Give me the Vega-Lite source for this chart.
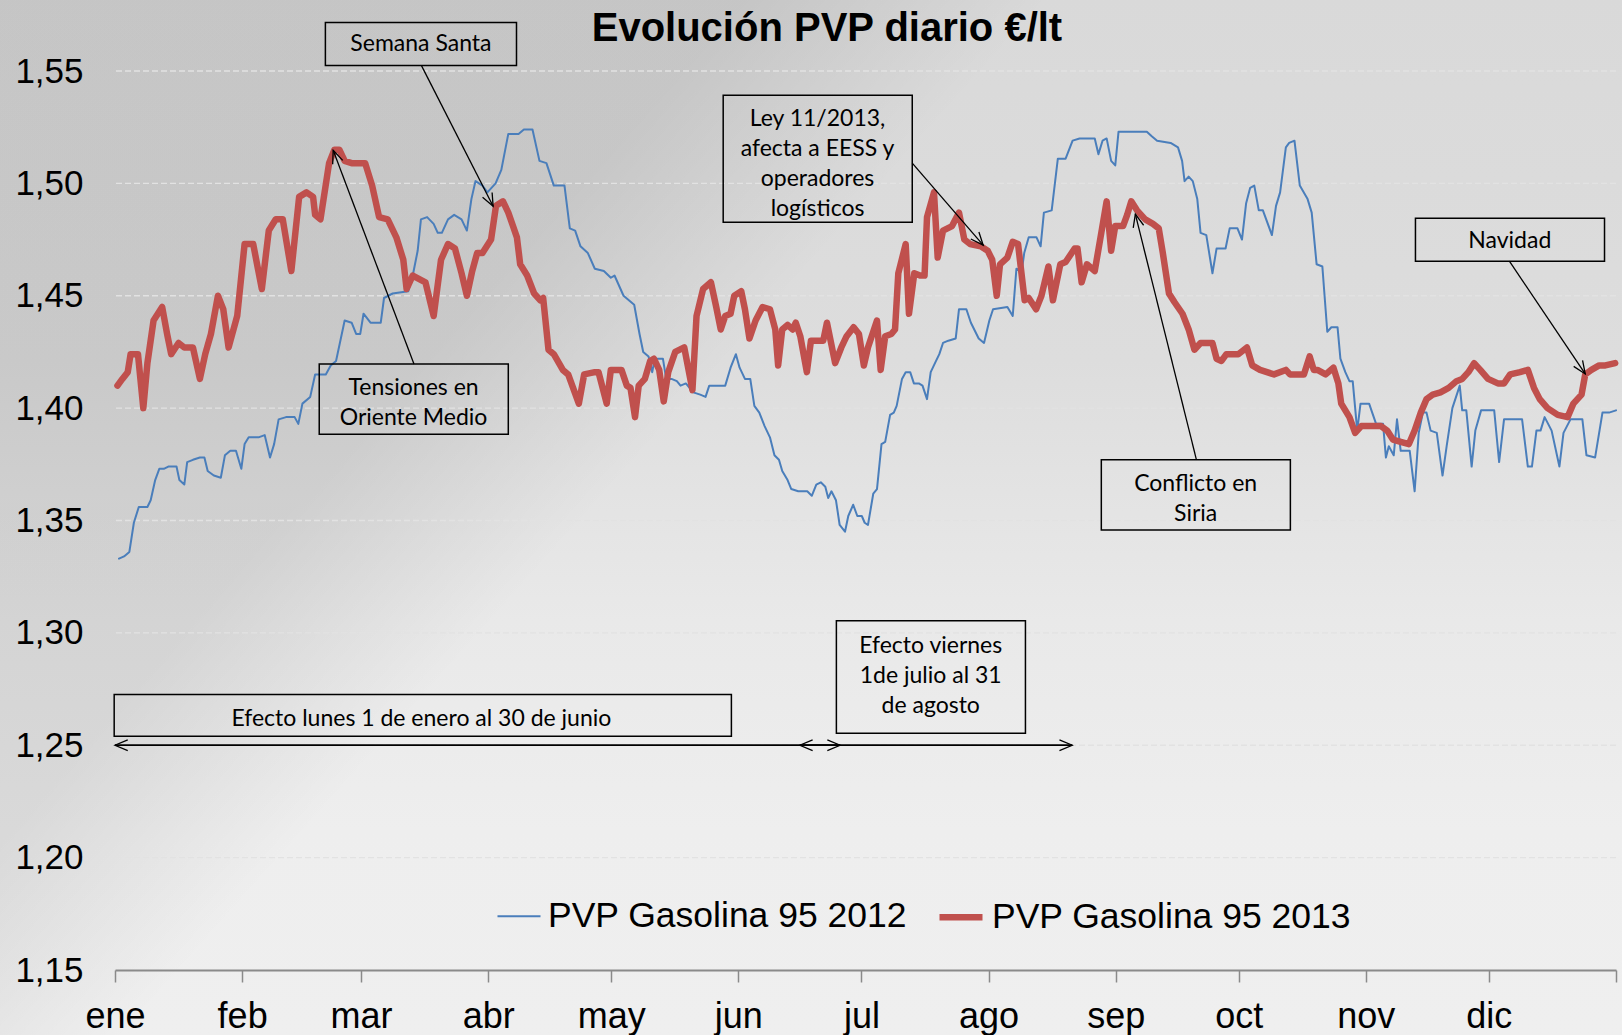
{
"$schema": "https://vega.github.io/schema/vega-lite/v6.json",
"width": 1501, "height": 899,
"autosize": {"type": "none"},
"padding": {"left": 115, "top": 71, "right": 6, "bottom": 65},
"background": "#d8d8d8",
"config": {"view": {"stroke": null}, "font": "Liberation Sans"},
"datasets": {
"heading": [{"t":"Evolución PVP diario €/lt","x":173.6,"y":1.5635}],
"grid": [{"g":1.2},{"g":1.25},{"g":1.3},{"g":1.35},{"g":1.4},{"g":1.45},{"g":1.5},{"g":1.55}],
"boxes": [
{"x1":51.3,"x2":97.9,"y1":1.5525,"y2":1.5716},
{"x1":49.8,"x2":95.9,"y1":1.3884,"y2":1.4196},
{"x1":148.3,"x2":194.4,"y1":1.4827,"y2":1.5392},
{"x1":240.5,"x2":286.6,"y1":1.3458,"y2":1.377},
{"x1":317.1,"x2":363.2,"y1":1.4654,"y2":1.4845},
{"x1":-0.2,"x2":150.3,"y1":1.254,"y2":1.2726},
{"x1":175.9,"x2":222.0,"y1":1.2553,"y2":1.3054}],
"labels": [
{"t":"Semana Santa","x":74.6,"y":1.5621},
{"t":"Tensiones en\nOriente Medio","x":72.8,"y":1.409},
{"t":"Ley 11/2013,\nafecta a EESS y\noperadores\nlogísticos","x":171.3,"y":1.5285},
{"t":"Conflicto en\nSiria","x":263.5,"y":1.3663},
{"t":"Navidad","x":340.1,"y":1.4743},
{"t":"Efecto lunes 1 de enero al 30 de junio","x":74.7,"y":1.2618},
{"t":"Efecto viernes\n1de julio al 31\nde agosto","x":198.9,"y":1.2941}],
"arrows": [
{"x1":74.7,"y1":1.5525,"x2":92.2,"y2":1.4898},
{"x1":72.9,"y1":1.4196,"x2":53.2,"y2":1.5147},
{"x1":194.4,"y1":1.509,"x2":211.7,"y2":1.4725},
{"x1":263.7,"y1":1.377,"x2":248.8,"y2":1.4863},
{"x1":340.0,"y1":1.4654,"x2":358.5,"y2":1.4152},
{"x1":0,"y1":1.25,"x2":176.8,"y2":1.25},
{"x1":176.8,"y1":1.25,"x2":0,"y2":1.25},
{"x1":167,"y1":1.25,"x2":233.4,"y2":1.25},
{"x1":233.4,"y1":1.25,"x2":167,"y2":1.25}],
"series": [
{"s":"2012","d":0.98,"p":1.333},{"s":"2012","d":2.2,"p":1.334},{"s":"2012","d":3.5,"p":1.336},{"s":"2012","d":4.6,"p":1.349},{"s":"2012","d":5.8,"p":1.356},{"s":"2012","d":7.9,"p":1.356},{"s":"2012","d":8.7,"p":1.359},{"s":"2012","d":9.8,"p":1.368},{"s":"2012","d":10.8,"p":1.373},{"s":"2012","d":11.9,"p":1.373},{"s":"2012","d":13.0,"p":1.374},{"s":"2012","d":15.0,"p":1.374},{"s":"2012","d":15.7,"p":1.368},{"s":"2012","d":16.9,"p":1.366},{"s":"2012","d":17.6,"p":1.376},{"s":"2012","d":19.0,"p":1.377},{"s":"2012","d":20.7,"p":1.378},{"s":"2012","d":21.8,"p":1.378},{"s":"2012","d":22.6,"p":1.372},{"s":"2012","d":24.1,"p":1.370},{"s":"2012","d":25.8,"p":1.369},{"s":"2012","d":26.8,"p":1.379},{"s":"2012","d":28.1,"p":1.381},{"s":"2012","d":29.5,"p":1.381},{"s":"2012","d":30.8,"p":1.373},{"s":"2012","d":31.6,"p":1.384},{"s":"2012","d":32.6,"p":1.387},{"s":"2012","d":35.0,"p":1.387},{"s":"2012","d":36.5,"p":1.388},{"s":"2012","d":37.8,"p":1.378},{"s":"2012","d":38.8,"p":1.384},{"s":"2012","d":39.9,"p":1.395},{"s":"2012","d":41.7,"p":1.396},{"s":"2012","d":43.8,"p":1.396},{"s":"2012","d":44.7,"p":1.393},{"s":"2012","d":45.7,"p":1.402},{"s":"2012","d":47.6,"p":1.405},{"s":"2012","d":48.8,"p":1.415},{"s":"2012","d":51.4,"p":1.415},{"s":"2012","d":52.6,"p":1.419},{"s":"2012","d":53.9,"p":1.421},{"s":"2012","d":56.0,"p":1.439},{"s":"2012","d":57.7,"p":1.438},{"s":"2012","d":58.8,"p":1.433},{"s":"2012","d":59.8,"p":1.433},{"s":"2012","d":60.6,"p":1.442},{"s":"2012","d":62.3,"p":1.438},{"s":"2012","d":64.8,"p":1.438},{"s":"2012","d":65.6,"p":1.449},{"s":"2012","d":67.7,"p":1.451},{"s":"2012","d":71.5,"p":1.452},{"s":"2012","d":72.6,"p":1.459},{"s":"2012","d":73.8,"p":1.470},{"s":"2012","d":74.6,"p":1.484},{"s":"2012","d":76.1,"p":1.485},{"s":"2012","d":77.7,"p":1.482},{"s":"2012","d":78.7,"p":1.478},{"s":"2012","d":79.7,"p":1.478},{"s":"2012","d":81.2,"p":1.484},{"s":"2012","d":82.7,"p":1.486},{"s":"2012","d":84.5,"p":1.484},{"s":"2012","d":85.8,"p":1.479},{"s":"2012","d":86.9,"p":1.493},{"s":"2012","d":87.9,"p":1.501},{"s":"2012","d":89.6,"p":1.499},{"s":"2012","d":90.8,"p":1.496},{"s":"2012","d":92.8,"p":1.500},{"s":"2012","d":94.2,"p":1.506},{"s":"2012","d":95.9,"p":1.522},{"s":"2012","d":98.4,"p":1.522},{"s":"2012","d":99.7,"p":1.524},{"s":"2012","d":101.8,"p":1.524},{"s":"2012","d":103.5,"p":1.510},{"s":"2012","d":105.2,"p":1.509},{"s":"2012","d":107.0,"p":1.499},{"s":"2012","d":109.6,"p":1.499},{"s":"2012","d":110.9,"p":1.480},{"s":"2012","d":112.2,"p":1.479},{"s":"2012","d":113.5,"p":1.472},{"s":"2012","d":115.3,"p":1.469},{"s":"2012","d":117.0,"p":1.462},{"s":"2012","d":119.2,"p":1.461},{"s":"2012","d":120.9,"p":1.458},{"s":"2012","d":121.8,"p":1.459},{"s":"2012","d":124.0,"p":1.450},{"s":"2012","d":126.6,"p":1.446},{"s":"2012","d":127.9,"p":1.433},{"s":"2012","d":128.8,"p":1.425},{"s":"2012","d":130.1,"p":1.423},{"s":"2012","d":131.0,"p":1.416},{"s":"2012","d":131.6,"p":1.422},{"s":"2012","d":133.6,"p":1.422},{"s":"2012","d":134.4,"p":1.413},{"s":"2012","d":135.7,"p":1.413},{"s":"2012","d":137.0,"p":1.412},{"s":"2012","d":137.9,"p":1.410},{"s":"2012","d":139.2,"p":1.411},{"s":"2012","d":141.0,"p":1.407},{"s":"2012","d":142.7,"p":1.406},{"s":"2012","d":144.0,"p":1.405},{"s":"2012","d":144.9,"p":1.410},{"s":"2012","d":148.8,"p":1.410},{"s":"2012","d":150.1,"p":1.418},{"s":"2012","d":151.4,"p":1.424},{"s":"2012","d":152.3,"p":1.418},{"s":"2012","d":153.6,"p":1.413},{"s":"2012","d":154.9,"p":1.413},{"s":"2012","d":155.9,"p":1.401},{"s":"2012","d":157.1,"p":1.398},{"s":"2012","d":158.4,"p":1.392},{"s":"2012","d":159.7,"p":1.387},{"s":"2012","d":160.8,"p":1.379},{"s":"2012","d":161.9,"p":1.377},{"s":"2012","d":162.7,"p":1.372},{"s":"2012","d":164.0,"p":1.368},{"s":"2012","d":164.9,"p":1.364},{"s":"2012","d":166.6,"p":1.363},{"s":"2012","d":168.8,"p":1.363},{"s":"2012","d":169.9,"p":1.361},{"s":"2012","d":171.0,"p":1.366},{"s":"2012","d":172.1,"p":1.367},{"s":"2012","d":173.2,"p":1.365},{"s":"2012","d":173.9,"p":1.360},{"s":"2012","d":174.7,"p":1.363},{"s":"2012","d":175.8,"p":1.359},{"s":"2012","d":176.7,"p":1.348},{"s":"2012","d":178.0,"p":1.345},{"s":"2012","d":178.8,"p":1.352},{"s":"2012","d":180.0,"p":1.357},{"s":"2012","d":181.0,"p":1.352},{"s":"2012","d":182.1,"p":1.352},{"s":"2012","d":182.8,"p":1.349},{"s":"2012","d":183.6,"p":1.348},{"s":"2012","d":184.9,"p":1.362},{"s":"2012","d":185.8,"p":1.364},{"s":"2012","d":186.9,"p":1.384},{"s":"2012","d":187.8,"p":1.385},{"s":"2012","d":189.0,"p":1.397},{"s":"2012","d":189.9,"p":1.398},{"s":"2012","d":190.6,"p":1.401},{"s":"2012","d":191.9,"p":1.413},{"s":"2012","d":192.8,"p":1.416},{"s":"2012","d":193.9,"p":1.416},{"s":"2012","d":194.8,"p":1.411},{"s":"2012","d":196.0,"p":1.411},{"s":"2012","d":196.9,"p":1.410},{"s":"2012","d":198.0,"p":1.404},{"s":"2012","d":198.9,"p":1.416},{"s":"2012","d":200.2,"p":1.421},{"s":"2012","d":201.0,"p":1.424},{"s":"2012","d":201.9,"p":1.429},{"s":"2012","d":203.2,"p":1.430},{"s":"2012","d":205.0,"p":1.431},{"s":"2012","d":205.8,"p":1.444},{"s":"2012","d":207.6,"p":1.444},{"s":"2012","d":208.7,"p":1.438},{"s":"2012","d":210.6,"p":1.431},{"s":"2012","d":211.9,"p":1.429},{"s":"2012","d":213.2,"p":1.439},{"s":"2012","d":214.1,"p":1.444},{"s":"2012","d":217.6,"p":1.445},{"s":"2012","d":218.9,"p":1.441},{"s":"2012","d":219.8,"p":1.462},{"s":"2012","d":221.1,"p":1.461},{"s":"2012","d":221.7,"p":1.469},{"s":"2012","d":222.8,"p":1.476},{"s":"2012","d":224.7,"p":1.476},{"s":"2012","d":225.7,"p":1.472},{"s":"2012","d":226.5,"p":1.487},{"s":"2012","d":228.4,"p":1.488},{"s":"2012","d":229.9,"p":1.511},{"s":"2012","d":231.8,"p":1.511},{"s":"2012","d":233.5,"p":1.519},{"s":"2012","d":235.2,"p":1.520},{"s":"2012","d":238.9,"p":1.520},{"s":"2012","d":239.8,"p":1.513},{"s":"2012","d":240.8,"p":1.519},{"s":"2012","d":241.8,"p":1.520},{"s":"2012","d":242.9,"p":1.510},{"s":"2012","d":243.9,"p":1.508},{"s":"2012","d":244.7,"p":1.523},{"s":"2012","d":251.6,"p":1.523},{"s":"2012","d":252.8,"p":1.521},{"s":"2012","d":254.1,"p":1.519},{"s":"2012","d":257.4,"p":1.518},{"s":"2012","d":259.2,"p":1.516},{"s":"2012","d":260.2,"p":1.510},{"s":"2012","d":260.8,"p":1.501},{"s":"2012","d":261.8,"p":1.503},{"s":"2012","d":262.8,"p":1.501},{"s":"2012","d":263.9,"p":1.493},{"s":"2012","d":264.7,"p":1.478},{"s":"2012","d":266.1,"p":1.477},{"s":"2012","d":267.6,"p":1.460},{"s":"2012","d":268.6,"p":1.471},{"s":"2012","d":270.8,"p":1.471},{"s":"2012","d":271.8,"p":1.480},{"s":"2012","d":273.7,"p":1.480},{"s":"2012","d":274.8,"p":1.475},{"s":"2012","d":275.8,"p":1.491},{"s":"2012","d":276.8,"p":1.498},{"s":"2012","d":277.8,"p":1.499},{"s":"2012","d":278.9,"p":1.488},{"s":"2012","d":279.9,"p":1.488},{"s":"2012","d":282.1,"p":1.477},{"s":"2012","d":283.1,"p":1.490},{"s":"2012","d":284.1,"p":1.496},{"s":"2012","d":285.5,"p":1.516},{"s":"2012","d":286.3,"p":1.518},{"s":"2012","d":287.6,"p":1.519},{"s":"2012","d":288.9,"p":1.499},{"s":"2012","d":290.8,"p":1.493},{"s":"2012","d":291.8,"p":1.487},{"s":"2012","d":293.0,"p":1.464},{"s":"2012","d":294.4,"p":1.463},{"s":"2012","d":295.6,"p":1.434},{"s":"2012","d":296.6,"p":1.436},{"s":"2012","d":298.1,"p":1.436},{"s":"2012","d":298.8,"p":1.422},{"s":"2012","d":300.0,"p":1.416},{"s":"2012","d":301.0,"p":1.412},{"s":"2012","d":301.8,"p":1.412},{"s":"2012","d":302.9,"p":1.390},{"s":"2012","d":303.7,"p":1.402},{"s":"2012","d":305.8,"p":1.402},{"s":"2012","d":307.5,"p":1.393},{"s":"2012","d":309.2,"p":1.393},{"s":"2012","d":309.9,"p":1.378},{"s":"2012","d":310.6,"p":1.383},{"s":"2012","d":311.8,"p":1.379},{"s":"2012","d":312.6,"p":1.395},{"s":"2012","d":313.5,"p":1.381},{"s":"2012","d":315.7,"p":1.381},{"s":"2012","d":316.9,"p":1.363},{"s":"2012","d":317.9,"p":1.389},{"s":"2012","d":318.9,"p":1.398},{"s":"2012","d":319.8,"p":1.398},{"s":"2012","d":320.8,"p":1.390},{"s":"2012","d":322.3,"p":1.389},{"s":"2012","d":323.7,"p":1.370},{"s":"2012","d":324.7,"p":1.383},{"s":"2012","d":326.1,"p":1.400},{"s":"2012","d":327.9,"p":1.410},{"s":"2012","d":328.5,"p":1.399},{"s":"2012","d":329.5,"p":1.399},{"s":"2012","d":330.8,"p":1.374},{"s":"2012","d":331.7,"p":1.390},{"s":"2012","d":333.1,"p":1.399},{"s":"2012","d":336.3,"p":1.399},{"s":"2012","d":337.5,"p":1.376},{"s":"2012","d":338.7,"p":1.395},{"s":"2012","d":343.1,"p":1.395},{"s":"2012","d":344.5,"p":1.374},{"s":"2012","d":345.5,"p":1.374},{"s":"2012","d":346.6,"p":1.390},{"s":"2012","d":347.6,"p":1.390},{"s":"2012","d":348.6,"p":1.396},{"s":"2012","d":350.3,"p":1.390},{"s":"2012","d":352.2,"p":1.374},{"s":"2012","d":353.2,"p":1.389},{"s":"2012","d":354.9,"p":1.395},{"s":"2012","d":357.8,"p":1.395},{"s":"2012","d":358.8,"p":1.379},{"s":"2012","d":360.9,"p":1.378},{"s":"2012","d":362.7,"p":1.398},{"s":"2012","d":364.3,"p":1.398},{"s":"2012","d":366.0,"p":1.399},
{"s":"2013","d":0.6,"p":1.410},{"s":"2013","d":1.8,"p":1.413},{"s":"2013","d":3.1,"p":1.416},{"s":"2013","d":3.8,"p":1.424},{"s":"2013","d":5.6,"p":1.424},{"s":"2013","d":6.9,"p":1.400},{"s":"2013","d":7.9,"p":1.420},{"s":"2013","d":9.4,"p":1.439},{"s":"2013","d":11.5,"p":1.445},{"s":"2013","d":12.7,"p":1.433},{"s":"2013","d":13.7,"p":1.424},{"s":"2013","d":15.5,"p":1.429},{"s":"2013","d":16.9,"p":1.427},{"s":"2013","d":19.0,"p":1.427},{"s":"2013","d":20.7,"p":1.413},{"s":"2013","d":22.0,"p":1.424},{"s":"2013","d":23.4,"p":1.433},{"s":"2013","d":25.1,"p":1.450},{"s":"2013","d":26.4,"p":1.444},{"s":"2013","d":27.7,"p":1.427},{"s":"2013","d":29.8,"p":1.441},{"s":"2013","d":31.6,"p":1.473},{"s":"2013","d":33.7,"p":1.473},{"s":"2013","d":35.8,"p":1.453},{"s":"2013","d":37.5,"p":1.479},{"s":"2013","d":39.2,"p":1.484},{"s":"2013","d":40.9,"p":1.484},{"s":"2013","d":43.0,"p":1.461},{"s":"2013","d":44.9,"p":1.494},{"s":"2013","d":46.7,"p":1.496},{"s":"2013","d":48.3,"p":1.494},{"s":"2013","d":48.8,"p":1.486},{"s":"2013","d":50.1,"p":1.484},{"s":"2013","d":52.2,"p":1.509},{"s":"2013","d":53.5,"p":1.515},{"s":"2013","d":54.7,"p":1.515},{"s":"2013","d":56.0,"p":1.510},{"s":"2013","d":57.7,"p":1.509},{"s":"2013","d":61.0,"p":1.509},{"s":"2013","d":62.7,"p":1.499},{"s":"2013","d":64.4,"p":1.485},{"s":"2013","d":66.5,"p":1.484},{"s":"2013","d":68.6,"p":1.476},{"s":"2013","d":70.3,"p":1.466},{"s":"2013","d":71.1,"p":1.453},{"s":"2013","d":72.6,"p":1.459},{"s":"2013","d":75.7,"p":1.456},{"s":"2013","d":77.7,"p":1.441},{"s":"2013","d":79.5,"p":1.466},{"s":"2013","d":81.2,"p":1.473},{"s":"2013","d":82.9,"p":1.471},{"s":"2013","d":84.5,"p":1.460},{"s":"2013","d":85.8,"p":1.450},{"s":"2013","d":87.1,"p":1.461},{"s":"2013","d":88.3,"p":1.469},{"s":"2013","d":89.6,"p":1.469},{"s":"2013","d":91.7,"p":1.475},{"s":"2013","d":92.9,"p":1.490},{"s":"2013","d":94.6,"p":1.492},{"s":"2013","d":95.9,"p":1.487},{"s":"2013","d":98.0,"p":1.476},{"s":"2013","d":98.8,"p":1.464},{"s":"2013","d":100.5,"p":1.459},{"s":"2013","d":102.2,"p":1.451},{"s":"2013","d":103.7,"p":1.448},{"s":"2013","d":104.4,"p":1.449},{"s":"2013","d":105.7,"p":1.426},{"s":"2013","d":107.0,"p":1.424},{"s":"2013","d":109.2,"p":1.417},{"s":"2013","d":110.5,"p":1.415},{"s":"2013","d":113.1,"p":1.402},{"s":"2013","d":114.4,"p":1.415},{"s":"2013","d":117.0,"p":1.416},{"s":"2013","d":117.9,"p":1.416},{"s":"2013","d":119.9,"p":1.402},{"s":"2013","d":120.9,"p":1.417},{"s":"2013","d":123.5,"p":1.417},{"s":"2013","d":124.8,"p":1.410},{"s":"2013","d":125.7,"p":1.409},{"s":"2013","d":126.8,"p":1.396},{"s":"2013","d":127.7,"p":1.410},{"s":"2013","d":129.2,"p":1.413},{"s":"2013","d":130.5,"p":1.421},{"s":"2013","d":131.4,"p":1.422},{"s":"2013","d":132.7,"p":1.417},{"s":"2013","d":133.8,"p":1.403},{"s":"2013","d":134.9,"p":1.416},{"s":"2013","d":136.6,"p":1.425},{"s":"2013","d":138.8,"p":1.427},{"s":"2013","d":140.8,"p":1.408},{"s":"2013","d":141.8,"p":1.441},{"s":"2013","d":143.4,"p":1.453},{"s":"2013","d":145.3,"p":1.456},{"s":"2013","d":146.6,"p":1.445},{"s":"2013","d":147.7,"p":1.435},{"s":"2013","d":148.8,"p":1.441},{"s":"2013","d":150.1,"p":1.442},{"s":"2013","d":151.0,"p":1.450},{"s":"2013","d":152.7,"p":1.452},{"s":"2013","d":153.6,"p":1.444},{"s":"2013","d":154.7,"p":1.431},{"s":"2013","d":156.2,"p":1.439},{"s":"2013","d":157.9,"p":1.445},{"s":"2013","d":159.7,"p":1.444},{"s":"2013","d":161.0,"p":1.435},{"s":"2013","d":161.7,"p":1.419},{"s":"2013","d":162.7,"p":1.435},{"s":"2013","d":164.0,"p":1.437},{"s":"2013","d":165.2,"p":1.435},{"s":"2013","d":166.0,"p":1.438},{"s":"2013","d":167.1,"p":1.432},{"s":"2013","d":168.7,"p":1.416},{"s":"2013","d":169.7,"p":1.430},{"s":"2013","d":172.7,"p":1.430},{"s":"2013","d":173.6,"p":1.438},{"s":"2013","d":175.6,"p":1.420},{"s":"2013","d":177.1,"p":1.427},{"s":"2013","d":178.4,"p":1.432},{"s":"2013","d":180.1,"p":1.436},{"s":"2013","d":181.4,"p":1.433},{"s":"2013","d":182.6,"p":1.419},{"s":"2013","d":183.6,"p":1.427},{"s":"2013","d":185.8,"p":1.439},{"s":"2013","d":186.7,"p":1.417},{"s":"2013","d":187.8,"p":1.432},{"s":"2013","d":189.3,"p":1.433},{"s":"2013","d":190.2,"p":1.435},{"s":"2013","d":191.0,"p":1.460},{"s":"2013","d":192.8,"p":1.473},{"s":"2013","d":193.6,"p":1.442},{"s":"2013","d":194.9,"p":1.460},{"s":"2013","d":196.3,"p":1.459},{"s":"2013","d":197.4,"p":1.459},{"s":"2013","d":198.0,"p":1.485},{"s":"2013","d":199.7,"p":1.496},{"s":"2013","d":200.6,"p":1.467},{"s":"2013","d":201.9,"p":1.479},{"s":"2013","d":204.1,"p":1.481},{"s":"2013","d":205.8,"p":1.487},{"s":"2013","d":207.1,"p":1.475},{"s":"2013","d":208.5,"p":1.473},{"s":"2013","d":211.1,"p":1.472},{"s":"2013","d":212.8,"p":1.470},{"s":"2013","d":213.9,"p":1.466},{"s":"2013","d":215.0,"p":1.450},{"s":"2013","d":215.8,"p":1.464},{"s":"2013","d":217.6,"p":1.467},{"s":"2013","d":218.9,"p":1.474},{"s":"2013","d":220.2,"p":1.473},{"s":"2013","d":221.8,"p":1.448},{"s":"2013","d":222.8,"p":1.449},{"s":"2013","d":224.6,"p":1.444},{"s":"2013","d":225.9,"p":1.450},{"s":"2013","d":227.6,"p":1.463},{"s":"2013","d":228.7,"p":1.448},{"s":"2013","d":230.5,"p":1.464},{"s":"2013","d":231.8,"p":1.465},{"s":"2013","d":234.0,"p":1.471},{"s":"2013","d":234.7,"p":1.471},{"s":"2013","d":235.7,"p":1.456},{"s":"2013","d":237.0,"p":1.464},{"s":"2013","d":238.9,"p":1.461},{"s":"2013","d":240.5,"p":1.478},{"s":"2013","d":241.8,"p":1.492},{"s":"2013","d":242.9,"p":1.470},{"s":"2013","d":243.9,"p":1.481},{"s":"2013","d":245.8,"p":1.481},{"s":"2013","d":246.8,"p":1.486},{"s":"2013","d":247.8,"p":1.492},{"s":"2013","d":249.2,"p":1.488},{"s":"2013","d":251.2,"p":1.484},{"s":"2013","d":253.1,"p":1.482},{"s":"2013","d":254.5,"p":1.480},{"s":"2013","d":255.5,"p":1.469},{"s":"2013","d":257.0,"p":1.451},{"s":"2013","d":258.4,"p":1.447},{"s":"2013","d":260.3,"p":1.442},{"s":"2013","d":261.8,"p":1.435},{"s":"2013","d":263.2,"p":1.426},{"s":"2013","d":264.7,"p":1.429},{"s":"2013","d":267.6,"p":1.429},{"s":"2013","d":268.6,"p":1.422},{"s":"2013","d":269.8,"p":1.421},{"s":"2013","d":271.0,"p":1.424},{"s":"2013","d":273.9,"p":1.424},{"s":"2013","d":276.0,"p":1.427},{"s":"2013","d":277.3,"p":1.419},{"s":"2013","d":279.2,"p":1.417},{"s":"2013","d":282.6,"p":1.415},{"s":"2013","d":285.5,"p":1.417},{"s":"2013","d":286.5,"p":1.415},{"s":"2013","d":289.9,"p":1.415},{"s":"2013","d":291.3,"p":1.423},{"s":"2013","d":292.3,"p":1.417},{"s":"2013","d":293.2,"p":1.417},{"s":"2013","d":295.2,"p":1.415},{"s":"2013","d":297.1,"p":1.418},{"s":"2013","d":298.3,"p":1.411},{"s":"2013","d":299.0,"p":1.402},{"s":"2013","d":301.0,"p":1.396},{"s":"2013","d":302.4,"p":1.389},{"s":"2013","d":303.9,"p":1.392},{"s":"2013","d":308.7,"p":1.392},{"s":"2013","d":310.2,"p":1.390},{"s":"2013","d":311.6,"p":1.386},{"s":"2013","d":313.5,"p":1.385},{"s":"2013","d":315.5,"p":1.384},{"s":"2013","d":316.9,"p":1.390},{"s":"2013","d":318.4,"p":1.398},{"s":"2013","d":319.8,"p":1.404},{"s":"2013","d":321.3,"p":1.406},{"s":"2013","d":323.2,"p":1.407},{"s":"2013","d":325.2,"p":1.409},{"s":"2013","d":327.1,"p":1.412},{"s":"2013","d":328.5,"p":1.413},{"s":"2013","d":330.0,"p":1.416},{"s":"2013","d":331.4,"p":1.420},{"s":"2013","d":332.9,"p":1.417},{"s":"2013","d":334.8,"p":1.413},{"s":"2013","d":337.2,"p":1.411},{"s":"2013","d":338.7,"p":1.411},{"s":"2013","d":340.2,"p":1.415},{"s":"2013","d":342.6,"p":1.416},{"s":"2013","d":344.5,"p":1.417},{"s":"2013","d":346.0,"p":1.409},{"s":"2013","d":347.4,"p":1.404},{"s":"2013","d":349.3,"p":1.400},{"s":"2013","d":351.8,"p":1.397},{"s":"2013","d":354.2,"p":1.396},{"s":"2013","d":355.6,"p":1.402},{"s":"2013","d":357.6,"p":1.406},{"s":"2013","d":358.5,"p":1.415},{"s":"2013","d":360.0,"p":1.417},{"s":"2013","d":361.9,"p":1.419},{"s":"2013","d":363.4,"p":1.419},{"s":"2013","d":365.8,"p":1.420}
]},
"layer": [
{"data": {"values": [{}]},
 "mark": {"type": "rect", "clip": false, "fill": {"gradient": "linear", "x1": 0, "y1": 0, "x2": 0, "y2": 1, "stops": [{"offset": 0, "color": "#d9d9d9"}, {"offset": 0.35, "color": "#dddddd"}, {"offset": 0.6, "color": "#e9e9e9"}, {"offset": 0.8, "color": "#eeeeee"}, {"offset": 1, "color": "#efefef"}]}},
 "encoding": {
  "x": {"datum": -28.5, "type": "quantitative", "scale": {"domain": [0, 366], "nice": false, "zero": false}},
  "x2": {"datum": 368},
  "y": {"datum": 1.12, "type": "quantitative", "scale": {"domain": [1.15, 1.55], "nice": false, "zero": false}},
  "y2": {"datum": 1.583}}},
{"data": {"values": [{}]},
 "mark": {"type": "rect", "clip": false, "fill": {"gradient": "linear", "x1": 0.2, "y1": 0.46, "x2": 0.34, "y2": 0.54, "stops": [{"offset": 0, "color": "rgba(0,0,0,0.09)"}, {"offset": 1, "color": "rgba(0,0,0,0)"}]}},
 "encoding": {
  "x": {"datum": -28.5, "type": "quantitative"},
  "x2": {"datum": 368},
  "y": {"datum": 1.12, "type": "quantitative"},
  "y2": {"datum": 1.583}}},
{"data": {"name": "grid"},
 "mark": {"type": "rule", "stroke": "#e2e2e2", "strokeWidth": 1.3, "strokeDash": [6, 3]},
 "encoding": {"y": {"field": "g", "type": "quantitative"}}},
{"data": {"name": "series"},
 "mark": {"type": "line", "strokeJoin": "round", "strokeCap": "round"},
 "encoding": {
  "x": {"field": "d", "type": "quantitative", "scale": {"domain": [0, 366], "nice": false, "zero": false},
    "axis": {"values": [0,31,60,91,121,152,182,213,244,274,305,335,366], "labelExpr": "['ene','feb','mar','abr','may','jun','jul','ago','sep','oct','nov','dic',''][indexof([0,31,60,91,121,152,182,213,244,274,305,335,366], datum.value)]", "title": null, "grid": false, "domainColor": "#8a8a8a", "domainWidth": 2, "tickColor": "#8a8a8a", "tickWidth": 1.5, "tickSize": 12, "labelFont": "Liberation Sans", "labelFontSize": 36, "labelColor": "#000", "labelPadding": 17, "labelOverlap": false, "labelFlush": false, "zindex": 1}},
  "y": {"field": "p", "type": "quantitative", "scale": {"domain": [1.15, 1.55], "nice": false, "zero": false},
    "axis": {"values": [1.15,1.2,1.25,1.3,1.35,1.4,1.45,1.5,1.55], "labelExpr": "replace(format(datum.value, '.2f'), '.', ',')", "title": null, "grid": false, "domain": false, "ticks": false, "labelPadding": 32, "labelFont": "Liberation Sans", "labelFontSize": 35, "labelColor": "#000", "labelOverlap": false, "labelFlush": false, "zindex": 1}},
  "color": {"field": "s", "type": "nominal", "scale": {"domain": ["2012", "2013"], "range": ["#4a7ebb", "#c0504d"]},
    "legend": {"title": null, "orient": "none", "legendX": 381, "legendY": 821, "direction": "horizontal", "labelExpr": "'PVP Gasolina 95 ' + datum.label", "labelFont": "Liberation Sans", "labelFontSize": 35.5, "labelColor": "#000", "symbolType": "stroke", "symbolSize": 1850, "labelOffset": 6, "columnPadding": 18, "padding": 0, "labelLimit": 1000}},
  "strokeWidth": {"field": "s", "type": "nominal", "scale": {"domain": ["2012", "2013"], "range": [2, 6.5]},
    "legend": {"title": null, "orient": "none", "legendX": 381, "legendY": 821, "direction": "horizontal", "labelExpr": "'PVP Gasolina 95 ' + datum.label", "labelFont": "Liberation Sans", "labelFontSize": 35.5, "labelColor": "#000", "symbolType": "stroke", "symbolSize": 1850, "labelOffset": 6, "columnPadding": 18, "padding": 0, "labelLimit": 1000}}}},
{"data": {"name": "boxes"},
 "mark": {"type": "rect", "filled": false, "stroke": "#000", "strokeWidth": 1.5, "clip": false},
 "encoding": {
  "x": {"field": "x1", "type": "quantitative"},
  "x2": {"field": "x2"},
  "y": {"field": "y1", "type": "quantitative"},
  "y2": {"field": "y2"}}},
{"data": {"name": "labels"},
 "mark": {"type": "text", "font": "Lato", "fontSize": 23, "lineBreak": "\n", "lineHeight": 30, "align": "center", "baseline": "middle", "color": "#000"},
 "encoding": {
  "x": {"field": "x", "type": "quantitative"},
  "y": {"field": "y", "type": "quantitative"},
  "text": {"field": "t"}}},
{"data": {"name": "heading"},
 "mark": {"type": "text", "font": "Liberation Sans", "fontSize": 40, "fontWeight": "bold", "align": "center", "baseline": "alphabetic", "color": "#000", "clip": false},
 "encoding": {
  "x": {"field": "x", "type": "quantitative"},
  "y": {"field": "y", "type": "quantitative"},
  "text": {"field": "t"}}},
{"data": {"name": "arrows"},
 "mark": {"type": "rule", "stroke": "#000", "strokeWidth": 1.3},
 "encoding": {
  "x": {"field": "x1", "type": "quantitative"},
  "x2": {"field": "x2"},
  "y": {"field": "y1", "type": "quantitative"},
  "y2": {"field": "y2"}}},
{"data": {"name": "arrows"},
 "mark": {"type": "point", "shape": "M -1 -0.42 L 0 0 L -1 0.42", "filled": false, "stroke": "#000", "strokeWidth": 1.3, "size": 650, "opacity": 1,
   "angle": {"expr": "atan2(scale('y', datum.y2) - scale('y', datum.y1), scale('x', datum.x2) - scale('x', datum.x1)) * 180 / PI"}},
 "encoding": {
  "x": {"field": "x2", "type": "quantitative"},
  "y": {"field": "y2", "type": "quantitative"}}}
]
}
